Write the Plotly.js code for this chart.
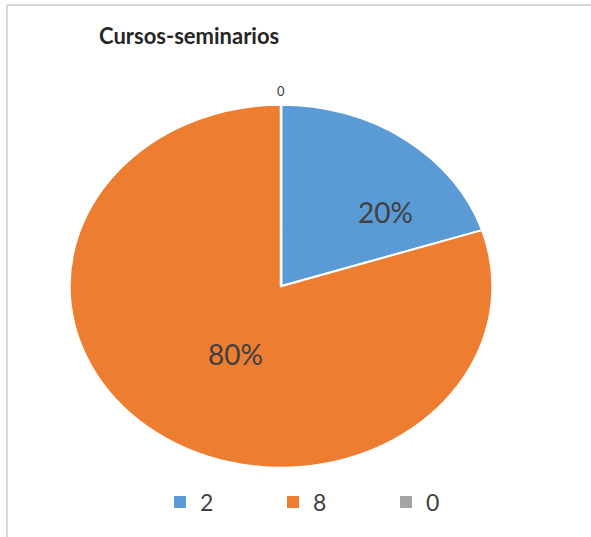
<!DOCTYPE html>
<html>
<head>
<meta charset="utf-8">
<script src="https://cdn.plot.ly/plotly-3.0.1.min.js"></script>
<style>
  html, body { margin: 0; padding: 0; background: #ffffff; }
  #chart { width: 591px; height: 537px; }
</style>
</head>
<body>
<div id="chart"></div>
<script>
// Data
const categories = ['2', '8', '0'];
const values = [2, 8, 0];
const sliceColors = ['#5B9BD5', '#ED7D31', '#A5A5A5'];
const chartTitle = 'Cursos-seminarios';

const FONT = 'Lato, "Open Sans", sans-serif';
const STRETCH_X = 423 / 363; // reference pie is drawn as an ellipse

const total = values.reduce(function (a, b) { return a + b; }, 0);
const labelText = values.map(function (v) {
  return v === 0 ? String(v) : Math.round(v / total * 100) + '%';
});
// label anchor spots (paper fractions) for each slice's data label
const labelPos = [[385 / 591, 1 - 212 / 537], [235 / 591, 1 - 354 / 537], [281 / 591, 1 - 91 / 537]];
const labelSize = [28, 28, 13];

const trace = {
  type: 'pie',
  labels: categories,
  values: values,
  sort: false,
  direction: 'clockwise',
  rotation: 0,
  marker: { colors: sliceColors, line: { color: '#ffffff', width: 2 } },
  textinfo: 'none',
  hoverinfo: 'none',
  domain: { x: [0.1, 0.851], y: [0.129, 0.805] },
  showlegend: true
};

const layout = {
  width: 591,
  height: 537,
  margin: { l: 0, r: 0, t: 0, b: 0 },
  paper_bgcolor: '#ffffff',
  font: { family: FONT, color: '#404040' },
  title: {
    text: '<b>' + chartTitle + '</b>',
    font: { family: FONT, size: 22, color: '#262626' },
    x: 99 / 591, xanchor: 'left', xref: 'paper',
    y: 1 - 36 / 537, yanchor: 'middle', yref: 'container'
  },
  showlegend: true,
  legend: {
    orientation: 'h',
    x: 160 / 591, xanchor: 'left',
    y: 1 - 502 / 537, yanchor: 'middle',
    font: { family: FONT, size: 23, color: '#404040' },
    entrywidth: 68, entrywidthmode: 'pixels',
    itemgap: 0,
    bgcolor: 'rgba(0,0,0,0)'
  },
  annotations: labelText.map(function (t, i) {
    return {
      text: t, xref: 'paper', yref: 'paper',
      x: labelPos[i][0], y: labelPos[i][1],
      xanchor: 'center', yanchor: 'middle', showarrow: false,
      font: { family: FONT, size: labelSize[i], color: '#404040' }
    };
  }),
  shapes: [
    { type: 'line', xref: 'paper', yref: 'paper', x0: 7 / 591, x1: 1, y0: 1 - 5 / 537, y1: 1 - 5 / 537,
      line: { color: '#d9d9d9', width: 2 } },
    { type: 'line', xref: 'paper', yref: 'paper', x0: 7 / 591, x1: 7 / 591, y0: 0, y1: 1 - 5 / 537,
      line: { color: '#d9d9d9', width: 2 } }
  ]
};

Plotly.newPlot('chart', [trace], layout, { displayModeBar: false, staticPlot: true }).then(function (gd) {
  const fl = gd._fullLayout;
  const cx = fl._size.l + fl._size.w * (trace.domain.x[0] + trace.domain.x[1]) / 2;
  const layer = gd.querySelector('.pielayer');
  if (layer) {
    layer.setAttribute('transform',
      'translate(' + cx + ',0) scale(' + STRETCH_X + ',1) translate(' + (-cx) + ',0)');
  }
  gd.querySelectorAll('.legend .legendpoints path').forEach(function (p) {
    p.style.strokeWidth = '0px';
  });
});
</script>
</body>
</html>
